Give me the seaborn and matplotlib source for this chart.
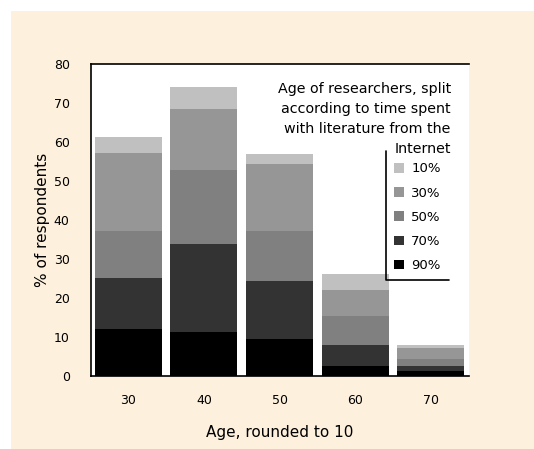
import matplotlib
matplotlib.use("Agg")
import matplotlib.pyplot as plt
import matplotlib.patches as mpatches
import seaborn as sns
import numpy as np
import pandas as pd

# values (% of respondents per age group)
ages = ["30", "40", "50", "60", "70"]
share_labels = ["10%", "30%", "50%", "70%", "90%"]
p90 = [12.0, 11.2, 9.4, 2.6, 1.3]
p70 = [13.2, 22.6, 14.9, 5.3, 1.3]
p50 = [12.0, 19.1, 12.9, 7.4, 1.7]
p30 = [19.9, 15.5, 17.1, 6.7, 2.8]
p10 = [4.1, 5.8, 2.7, 4.1, 0.8]
grays = ["#c0c0c0", "#969696", "#808080", "#333333", "#000000"]

sns.set_style("white")
plt.rcParams['font.family'] = ['DejaVu Sans']
plt.rcParams['text.color'] = 'black'
plt.rcParams['axes.labelcolor'] = 'black'
plt.rcParams['xtick.color'] = 'black'
plt.rcParams['ytick.color'] = 'black'

fig = plt.figure(figsize=(5.34, 4.49), dpi=100)
fig.patch.set_facecolor("white")
# beige panel behind the chart
fig.patches.append(mpatches.Rectangle((11 / 534, 0), 1, 1 - 11 / 449,
                                      transform=fig.transFigure,
                                      facecolor="#fdf0dc", edgecolor="none",
                                      zorder=-1))
ax = fig.add_axes([0.1695, 0.1626, 0.708, 0.695])
ax.set_facecolor("white")

# stacked bars: draw cumulative totals from the top layer down
df = pd.DataFrame({"age": ages})
cum = np.zeros(len(ages))
stack = []
for vals in [p90, p70, p50, p30, p10]:
    cum = cum + np.array(vals)
    stack.append(cum.copy())
stack = stack[::-1]  # top (total) first
for tops, col in zip(stack, grays):
    df["v"] = tops
    sns.barplot(data=df, x="age", y="v", color=col, width=0.885,
                saturation=1, linewidth=0, ax=ax)

ax.set_xlim(-0.5, 4.5)
ax.set_ylim(0, 80)
ax.set_yticks(range(0, 81, 10))
ax.set_xticks(np.arange(-0.5, 5, 1), minor=True)
ax.tick_params(axis="x", which="major", length=0, pad=13, labelsize=9)
ax.tick_params(axis="x", which="minor", length=4.5, width=1.2, direction="out",
               color="black")
ax.tick_params(axis="y", length=6, width=1.2, direction="out", color="black",
               labelsize=9, pad=9)
for s in ["left", "bottom", "top"]:
    ax.spines[s].set_color("black")
    ax.spines[s].set_linewidth(1.2)
ax.spines["right"].set_visible(False)

ax.set_xlabel("Age, rounded to 10", fontsize=11, labelpad=13)
ax.set_ylabel("% of respondents", fontsize=11, labelpad=3)

ax.text(0.953, 0.943,
        "Age of researchers, split\naccording to time spent\nwith literature from the\nInternet",
        transform=ax.transAxes, ha="right", va="top", multialignment="right",
        fontsize=10.3, linespacing=1.56)

handles = [mpatches.Patch(facecolor=c, edgecolor="none") for c in grays]
leg = ax.legend(handles, share_labels, loc="upper left",
                bbox_to_anchor=(0.782, 0.71), frameon=False, fontsize=9.5,
                handlelength=0.75, handleheight=0.75, handletextpad=0.55,
                labelspacing=0.85, borderpad=0.6, borderaxespad=0)

# legend border only on left and bottom
fig.canvas.draw()
bb = leg.get_window_extent().transformed(ax.transAxes.inverted())
ax.plot([bb.x0, bb.x0, bb.x1], [bb.y1 + 0.01, bb.y0, bb.y0], color="black",
        lw=1.2, transform=ax.transAxes, clip_on=False)

fig.savefig("out.png", dpi=100, facecolor=fig.get_facecolor())
